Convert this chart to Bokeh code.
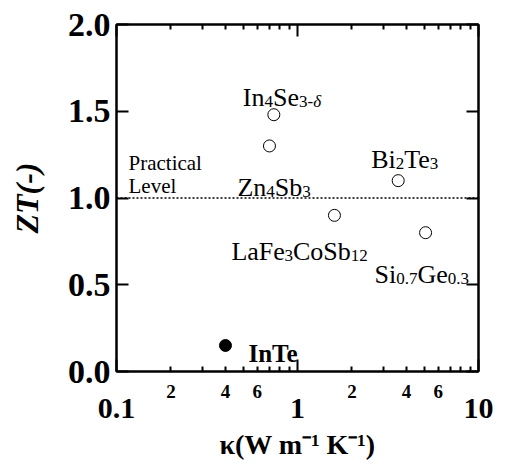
from bokeh.plotting import figure
from bokeh.models import (LogAxis, LinearAxis, FixedTicker, Span, ColumnDataSource,
                          CustomJSTickFormatter, PrintfTickFormatter)
from bokeh.core.properties import value, field
from bokeh.embed import file_html
from bokeh.resources import INLINE

# ---------------- data ----------------
materials = ["In4Se3-δ", "Zn4Sb3", "Bi2Te3", "LaFe3CoSb12", "Si0.7Ge0.3", "InTe"]
kappa = [0.74, 0.70, 3.6, 1.6, 5.1, 0.40]          # W m^-1 K^-1
zt = [1.48, 1.30, 1.10, 0.90, 0.80, 0.15]
this_work = [False, False, False, False, False, True]
practical_level = 1.0
x_range = (0.1, 10)
y_range = (0.0, 2.0)
y_ticks = [0.0, 0.5, 1.0, 1.5, 2.0]
x_major_ticks = [0.1, 1, 10]
x_minor_label_ticks = [0.2, 0.4, 0.6, 2, 4, 6]
x_minor_ticks = [0.2, 0.3, 0.4, 0.5, 0.6, 0.7, 0.8, 0.9, 2, 3, 4, 5, 6, 7, 8, 9]
practical_text = ["Practical", "Level"]

# ---------------- styles ----------------
FONT = "Liberation Serif"
MAIN_PX = 26
SUB_PX = 17
SUB_SHIFT = 4
# label anchor offsets (px) from each point: left edge / baseline
label_dx = [-31, -32, -27, -103, -51, 23]
label_dy = [-17, 42, -21, 36, 42, 8]
practical_dx = 12
practical_dy = [-35, -12]

# Times-metric advance widths (per 1000 em)
WIDTH = {"I": 333, "n": 500, "S": 556, "e": 444, "Z": 611, "b": 500, "B": 667,
         "i": 278, "T": 611, "L": 611, "a": 444, "F": 556, "C": 667, "o": 500,
         "G": 722, ".": 250, "-": 333, "δ": 480}
for d in "0123456789":
    WIDTH[d] = 500
KERN = {"Te": -70, "Fe": -15}


def run_width(text):
    w = sum(WIDTH.get(c, 500) for c in text)
    w += sum(KERN.get(text[k:k + 2], 0) for k in range(len(text) - 1))
    return w


def split_runs(label):
    runs = []
    for ch in label:
        if ch == "δ":
            kind = "subi"
        elif ch.isdigit() or ch in ".-":
            kind = "sub"
        else:
            kind = "main"
        if runs and runs[-1][1] == kind:
            runs[-1][0] += ch
        else:
            runs.append([ch, kind])
    return runs


rx, ry, rt, rdx, rdy, rsize, rstyle = [], [], [], [], [], [], []
for i, name in enumerate(materials):
    if this_work[i]:
        rx.append(kappa[i]); ry.append(zt[i]); rt.append(name)
        rdx.append(label_dx[i]); rdy.append(label_dy[i])
        rsize.append("25px"); rstyle.append("bold")
        continue
    cursor = label_dx[i]
    for text, kind in split_runs(name):
        px = MAIN_PX if kind == "main" else SUB_PX
        rx.append(kappa[i]); ry.append(zt[i]); rt.append(text)
        rdx.append(cursor)
        rdy.append(label_dy[i] + (0 if kind == "main" else SUB_SHIFT))
        rsize.append(f"{px}px")
        rstyle.append("italic" if kind == "subi" else "normal")
        cursor += run_width(text) * px / 1000.0

label_src = ColumnDataSource(dict(x=rx, y=ry, text=rt, dx=rdx, dy=rdy, size=rsize, style=rstyle))
pt_src = ColumnDataSource(dict(x=kappa, y=zt,
                               fill=["black" if f else "white" for f in this_work]))

p = figure(width=497, height=465, x_axis_type="log", x_range=x_range, y_range=y_range,
           output_backend="svg", toolbar_location=None,
           min_border_left=116, min_border_right=19, min_border_top=24, min_border_bottom=94)
p.grid.visible = False
p.outline_line_color = "black"
p.outline_line_width = 2
p.background_fill_color = "white"
p.border_fill_color = "white"

TICK_W = 2


def style_ticks(ax, major_in=12, minor_in=5):
    ax.axis_line_width = 2
    ax.axis_line_color = "black"
    ax.major_tick_in = major_in
    ax.major_tick_out = 0
    ax.minor_tick_in = minor_in
    ax.minor_tick_out = 0
    ax.major_tick_line_width = TICK_W
    ax.minor_tick_line_width = TICK_W
    ax.major_tick_line_color = "black"
    ax.minor_tick_line_color = "black"


def hide_labels(ax):
    ax.major_label_text_font_size = "1px"
    ax.major_label_text_color = None
    ax.major_label_standoff = 0


def bare(ax):
    ax.axis_line_color = None
    ax.major_tick_line_color = None
    ax.minor_tick_line_color = None
    ax.major_tick_in = 0
    ax.major_tick_out = 0
    ax.minor_tick_in = 0
    ax.minor_tick_out = 0


# x axis A: tick marks only
xa = p.xaxis[0]
xa.ticker = FixedTicker(ticks=x_major_ticks, minor_ticks=x_minor_ticks)
style_ticks(xa)
hide_labels(xa)

# x axis B: minor labels 2,4,6
xb = LogAxis(ticker=FixedTicker(ticks=x_minor_label_ticks, minor_ticks=[]))
bare(xb)
xb.formatter = CustomJSTickFormatter(
    code="const e = Math.floor(Math.log10(tick) + 1e-9); return String(Math.round(tick / Math.pow(10, e)));")
xb.major_label_text_font = FONT
xb.major_label_text_font_style = "bold"
xb.major_label_text_font_size = "19px"
xb.major_label_text_color = "black"
xb.major_label_standoff = 13
p.add_layout(xb, "below")

# x axis C: decade labels and axis title
xc = LogAxis(ticker=FixedTicker(ticks=x_major_ticks, minor_ticks=[]))
bare(xc)
xc.formatter = CustomJSTickFormatter(code="return String(tick);")
xc.major_label_text_font = FONT
xc.major_label_text_font_style = "bold"
xc.major_label_text_font_size = "30px"
xc.major_label_text_color = "black"
xc.major_label_standoff = -2
xc.axis_label = "κ(W m⁻¹ K⁻¹)"
xc.axis_label_text_font = FONT
xc.axis_label_text_font_style = "bold"
xc.axis_label_text_font_size = "28px"
xc.axis_label_text_color = "black"
xc.axis_label_standoff = 8
p.add_layout(xc, "below")

# top axis
xt = LogAxis(ticker=FixedTicker(ticks=x_major_ticks, minor_ticks=x_minor_ticks))
style_ticks(xt)
hide_labels(xt)
p.add_layout(xt, "above")

# y axes
ya = p.yaxis[0]
ya.ticker = FixedTicker(ticks=y_ticks, minor_ticks=[])
style_ticks(ya)
ya.formatter = PrintfTickFormatter(format="%.1f")
ya.major_label_text_font = FONT
ya.major_label_text_font_style = "bold"
ya.major_label_text_font_size = "34px"
ya.major_label_text_color = "black"
ya.major_label_standoff = 6
ya.axis_label = "ZT(-)"
ya.axis_label_text_font = FONT
ya.axis_label_text_font_style = "bold italic"
ya.axis_label_text_font_size = "32px"
ya.axis_label_text_color = "black"
ya.axis_label_standoff = 20

yr = LinearAxis(ticker=FixedTicker(ticks=y_ticks, minor_ticks=[]))
style_ticks(yr)
hide_labels(yr)
p.add_layout(yr, "right")

# practical level line
p.add_layout(Span(location=practical_level, dimension="width", line_color="black",
                  line_width=1.5, line_dash="2 2"))
p.text(x=[x_range[0]] * len(practical_text), y=[practical_level] * len(practical_text),
       text=practical_text, x_offset=practical_dx, y_offset=practical_dy,
       text_font=value(FONT), text_font_size="21px", text_color="black",
       text_align="left", text_baseline="alphabetic")

# points
p.scatter("x", "y", source=pt_src, marker="circle", size=12,
          fill_color="fill", line_color="black", line_width=1)

# material labels
p.text(x="x", y="y", text="text", source=label_src,
       x_offset=field("dx"), y_offset=field("dy"),
       text_font=value(FONT), text_font_size=field("size"), text_font_style=field("style"),
       text_color="black", text_align="left", text_baseline="alphabetic")

open("out.html", "w").write(file_html(p, INLINE))
